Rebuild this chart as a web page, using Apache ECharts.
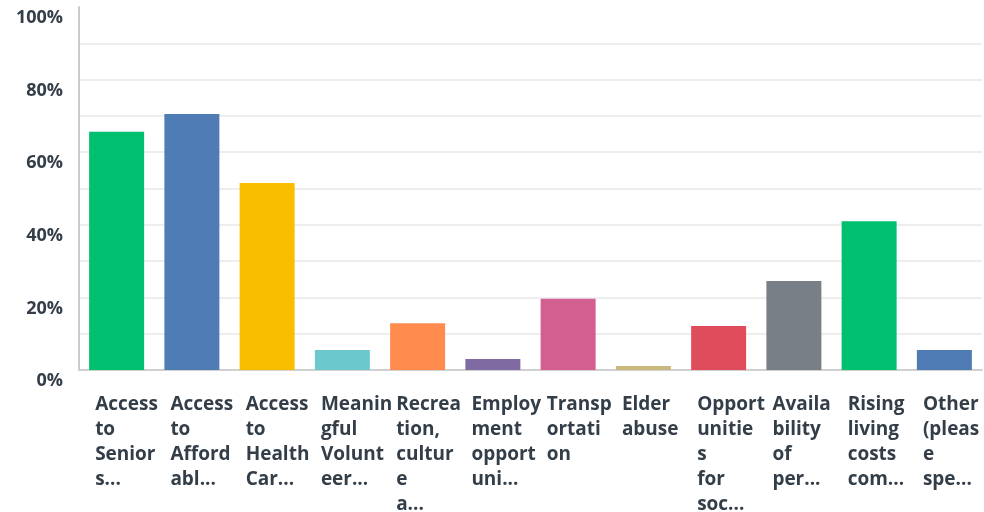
<!DOCTYPE html>
<html>
<head>
<meta charset="utf-8">
<script src="https://cdn.jsdelivr.net/npm/echarts@6/dist/echarts.min.js"></script>
<style>html,body{margin:0;padding:0;background:#fff}#c{width:984px;height:512px}</style>
</head>
<body>
<div id="c"></div>
<script>
const categories = [
  "Access\nto\nSenior\ns...",
  "Access\nto\nAfford\nabl...",
  "Access\nto\nHealth\nCar...",
  "Meanin\ngful\nVolunt\neer...",
  "Recrea\ntion,\ncultur\ne\na...",
  "Employ\nment\nopport\nuni...",
  "Transp\nortati\non",
  "Elder\nabuse",
  "Opport\nunitie\ns\nfor\nsoc...",
  "Availa\nbility\nof\nper...",
  "Rising\nliving\ncosts\ncom...",
  "Other\n(pleas\ne\nspe..."
];
const values = [65.6, 70.5, 51.5, 5.5, 12.9, 3.0, 19.6, 1.1, 12.1, 24.5, 41.0, 5.5];
const colors = ["#00bf6f", "#507cb6", "#f9be00", "#6bc8cd", "#ff8b4f", "#7f6aa1", "#d25f90", "#c9b97c", "#df4d5d", "#787f87", "#00bf6f", "#507cb6"];
const yTicks = [0, 20, 40, 60, 80, 100];

const chart = echarts.init(document.getElementById('c'), null, {renderer: 'canvas'});
chart.setOption({
  animation: false,
  grid: {left: 79, right: 2, top: 7, bottom: 142, containLabel: false, outerBoundsMode: 'none'},
  xAxis: {
    type: 'category',
    data: categories,
    axisLine: {show: true, lineStyle: {color: '#d0d0d0', width: 2}},
    axisTick: {show: false},
    axisLabel: {
      interval: 0,
      align: 'left',
      verticalAlign: 'top',
      padding: [0, 0, 0, -21.5],
      margin: 22,
      lineHeight: 25,
      fontFamily: 'Open Sans',
      fontWeight: 700,
      fontSize: 19,
      color: '#333e48'
    }
  },
  yAxis: {
    type: 'value',
    min: 0,
    max: 100,
    interval: 10,
    axisLine: {show: true, lineStyle: {color: '#cccccc', width: 2}},
    axisTick: {show: false},
    splitLine: {show: true, showMaxLine: false, lineStyle: {color: '#eeeeee', width: 2}},
    axisLabel: {
      margin: 16,
      verticalAlign: 'top',
      lineHeight: 18,
      padding: [2, 0, 0, 0],
      fontFamily: 'Open Sans',
      fontWeight: 700,
      fontSize: 18,
      color: '#333e48',
      formatter: v => yTicks.includes(v) ? v + '%' : ''
    }
  },
  series: [{
    type: 'bar',
    barWidth: 55,
    data: values.map((v, i) => ({value: v, itemStyle: {color: colors[i]}}))
  }]
});
</script>
</body>
</html>
